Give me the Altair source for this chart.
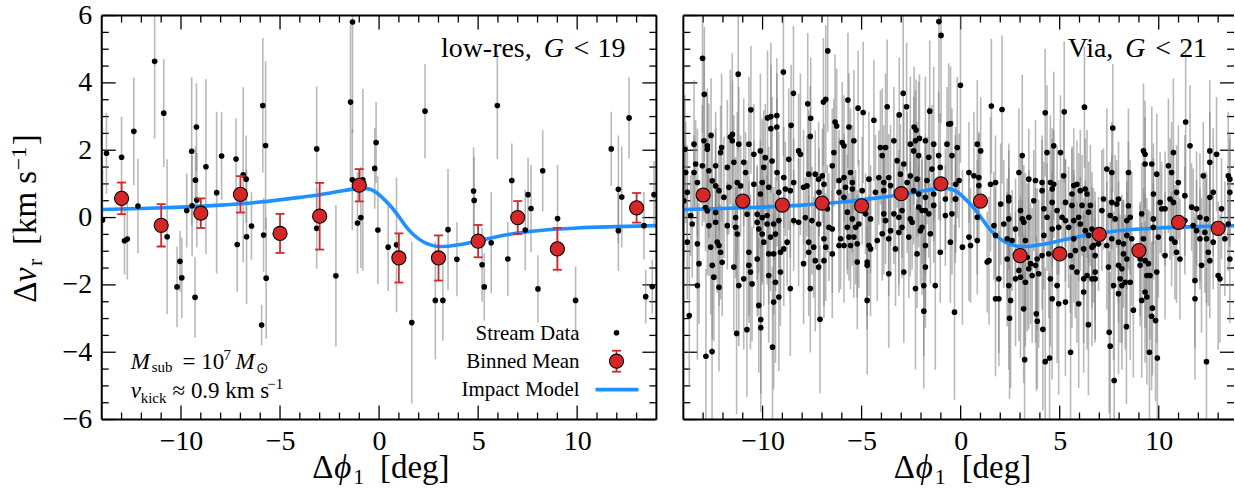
import altair as alt
import pandas as pd

FONT = "Liberation Serif"

# ---------------- axis tick values ----------------
X_MAJOR = [-10, -5, 0, 5, 10]
X_MINOR = [-13, -12, -11, -9, -8, -7, -6, -4, -3, -2, -1, 1, 2, 3, 4, 6, 7, 8, 9, 11, 12, 13]
Y_MAJOR = [-6, -4, -2, 0, 2, 4, 6]
Y_MINOR = [-5.5, -5, -4.5, -3.5, -3, -2.5, -1.5, -1, -0.5, 0.5, 1, 1.5, 2.5, 3, 3.5, 4.5, 5, 5.5]

# ---------------- impact model ----------------
MODEL_X = [-14, -12, -10, -8, -6, -4, -3, -2, -1.5, -1, -0.6, -0.2, 0.2, 0.6, 1.0, 1.4,
           1.8, 2.2, 2.6, 3.0, 3.5, 4, 5, 6, 7, 8, 10, 12, 14]
MODEL_Y = [0.24, 0.27, 0.31, 0.37, 0.46, 0.60, 0.68, 0.78, 0.83, 0.87, 0.86, 0.77, 0.57, 0.33,
           0.03, -0.30, -0.54, -0.71, -0.81, -0.86, -0.85, -0.81, -0.69, -0.56, -0.46, -0.39,
           -0.31, -0.27, -0.24]

# ---------------- binned means ----------------
LOWRES_BIN_X = [-13, -11, -9, -7, -5, -3, -1, 1, 3, 5, 7, 9, 13]
LOWRES_BIN_Y = [0.57, -0.23, 0.13, 0.69, -0.47, 0.04, 0.96, -1.20, -1.20, -0.70, 0.0, -0.93, 0.29]
LOWRES_BIN_ERR = [0.47, 0.63, 0.44, 0.54, 0.58, 0.99, 0.48, 0.73, 0.67, 0.48, 0.49, 0.62, 0.44]

VIA_BIN_X = [-13, -11, -9, -7, -5, -3, -1, 1, 3, 5, 7, 9, 11, 13]
VIA_BIN_Y = [0.67, 0.49, 0.37, 0.43, 0.35, 0.71, 1.0, 0.49, -1.13, -1.08, -0.50, -0.98, -0.14, -0.32]

# ---------------- stream data (x, dv, err) ----------------
LOWRES_A = [(-13.96, -0.07, 1.5), (-13.76, 1.91, 1.2), (-13.0, 1.79, 1.2), (-12.38, 2.56, 1.6),
            (-12.17, 0.34, 1.4), (-12.85, -0.69, 1.0), (-12.71, -0.64, 1.2), (-11.33, 4.64, 2.3),
            (-10.87, 3.10, 1.6), (-10.70, -0.57, 2.3), (-9.71, 0.21, 1.1), (-9.46, 1.97, 2.2),
            (-9.44, 0.35, 1.5), (-9.22, 2.69, 1.3), (-9.27, 1.11, 1.0), (-9.2, 0.52, 1.4),
            (-8.74, 1.51, 2.6), (-8.2, 0.74, 2.4), (-7.95, 1.83, 1.3), (-7.22, 1.74, 1.2),
            (-6.86, 1.27, 2.6), (-6.71, 1.14, 1.3), (-7.16, -0.80, 1.4), (-6.69, -0.57, 2.0),
            (-6.44, -0.25, 1.0), (-5.87, 3.33, 2.0), (-5.73, 2.14, 2.5), (-5.83, -0.52, 1.1),
            (-3.15, 2.04, 1.85), (-3.15, -0.32, 1.2), (-10.05, -1.30, 0.9), (-10.2, -2.06, 1.2),
            (-9.96, -1.79, 1.2), (-9.29, -2.37, 1.2), (-5.93, -3.19, 0.6), (-5.70, -1.80, 1.8),
            (-2.18, -1.73, 2.1)]
LOWRES_B = [(-1.34, 5.81, 3.3), (-1.44, 3.43, 2.3), (-0.15, 2.23, 1.2), (-0.22, 1.46, 1.2),
            (-1.35, 1.12, 1.5), (-0.82, 1.12, 2.7), (-1.09, -0.16, 1.5), (-0.92, 0.0, 1.5),
            (-0.06, -0.37, 1.6), (2.32, 3.16, 1.4), (3.48, -0.36, 1.8), (5.97, 3.33, 1.6),
            (4.77, 0.79, 1.3), (4.80, 0.51, 1.3), (6.70, 1.10, 1.1), (8.26, 1.39, 1.2),
            (7.52, 0.68, 1.1), (7.67, 0.27, 1.3), (7.38, -0.37, 1.2), (9.01, -0.03, 1.6),
            (5.66, -0.75, 1.5), (11.72, 2.04, 1.1), (12.62, 2.96, 1.2), (12.08, 0.84, 1.6),
            (12.25, 0.61, 1.5), (12.08, -0.39, 1.2), (13.37, -0.24, 1.0), (13.88, 0.68, 1.0),
            (0.46, -0.88, 1.3), (0.88, -0.81, 2.0), (1.65, -3.12, 2.4), (2.84, -2.46, 1.75),
            (3.22, -2.46, 1.2), (3.93, -1.24, 1.1), (5.2, -1.40, 1.1), (5.31, -2.06, 1.0),
            (6.50, -1.23, 1.1), (8.02, -2.12, 1.0), (9.92, -2.46, 1.0), (13.46, -2.35, 0.8),
            (13.79, -2.05, 0.8)]

VIA_A = [(-13.92, 2.03, 1.6), (-13.46, 2.18, 1.9), (-12.96, 2.28, 2.4), (-12.79, 2.13, 1.5), (-12.79, 2.03, 1.8),
         (-12.07, 2.08, 2.2), (-12.12, 1.93, 1.4), (-11.53, 2.28, 2.6), (-11.2, 2.18, 1.7), (-10.69, 2.18, 2.0),
         (-10.44, 1.88, 1.5), (-10.11, 1.98, 2.3), (-9.86, 1.78, 1.6), (-9.52, 1.68, 1.9), (-8.68, 1.73, 2.1),
         (-8.18, 1.98, 1.7), (-8.09, 1.88, 2.4), (-13.38, 1.59, 1.3), (-13.04, 1.54, 1.8), (-12.37, 1.54, 1.6),
         (-11.78, 1.49, 2.0), (-11.45, 1.64, 1.4), (-10.95, 1.64, 1.9), (-10.86, 1.34, 1.2), (-9.94, 1.49, 1.7),
         (-9.27, 1.34, 2.2), (-8.93, 1.19, 1.5), (-7.67, 1.29, 1.9), (-7.34, 1.29, 1.3), (-7.17, 1.14, 1.7),
         (-13.88, 1.34, 1.5), (-13.46, 1.34, 1.1), (-13.29, 1.04, 1.6), (-12.71, 1.39, 2.0), (-12.54, 1.09, 1.3),
         (-12.37, 0.94, 1.7), (-12.2, 0.80, 1.2), (-11.95, 0.60, 1.8), (-11.7, 0.90, 1.4), (-11.28, 1.04, 2.1),
         (-11.11, 0.94, 1.5), (-10.44, 0.99, 1.3), (-10.02, 1.04, 1.9), (-10.11, 0.70, 1.6), (-9.69, 0.90, 1.2),
         (-9.18, 0.75, 1.8), (-8.85, 0.85, 1.4), (-8.6, 0.80, 2.0), (-8.43, 1.04, 1.3), (-7.93, 0.90, 1.7),
         (-7.76, 0.94, 1.5), (-13.8, 0.75, 1.4), (-13.97, 0.50, 1.8), (-13.63, 0.06, 1.2), (-13.55, -0.19, 1.6),
         (-12.88, 0.30, 1.3), (-12.79, 0.20, 1.9), (-12.37, 0.15, 1.1), (-12.71, -0.24, 1.5), (-12.37, -0.14, 1.7),
         (-11.78, -0.24, 1.3), (-11.36, 0.0, 1.8), (-11.36, -0.29, 1.2), (-10.78, 0.10, 1.6), (-10.27, 0.10, 1.4),
         (-10.02, 0.0, 1.9), (-9.77, 0.06, 1.2), (-10.27, -0.14, 1.7), (-10.19, -0.34, 1.3), (-10.02, -0.49, 1.5),
         (-9.77, -0.19, 1.8), (-9.44, -0.19, 1.1), (-9.6, -0.58, 1.6), (-9.94, -0.73, 1.9), (-9.18, -0.09, 1.4),
         (-9.35, -0.49, 1.7), (-8.76, -0.73, 1.3), (-8.43, -0.09, 1.5), (-8.18, -0.14, 1.9), (-7.84, 0.0, 1.2),
         (-7.51, -0.09, 1.6), (-7.17, -0.19, 1.4), (-13.8, -0.73, 1.7), (-13.29, -0.78, 1.3), (-12.62, -0.88, 2.0),
         (-12.29, -0.73, 1.5), (-12.2, -0.83, 1.8), (-12.12, -1.03, 1.4), (-11.28, -0.49, 1.6), (-10.69, -1.03, 2.1),
         (-9.69, -1.08, 1.5), (-9.44, -1.08, 1.8), (-9.1, -1.03, 1.3), (-8.93, -0.93, 1.7), (-7.67, -0.73, 1.4),
         (-7.67, -1.03, 1.9), (-7.42, -0.88, 1.5), (-13.21, -1.37, 1.8), (-12.54, -1.42, 2.2), (-12.04, -1.33, 1.6),
         (-11.45, -1.47, 1.9), (-10.69, -1.42, 1.5), (-10.61, -1.62, 2.3), (-10.27, -1.23, 1.7), (-9.69, -1.72, 2.0),
         (-9.1, -1.62, 1.6), (-7.93, -1.37, 1.8), (-7.34, -1.28, 2.1), (-7.17, -1.47, 1.5), (-13.29, -2.02, 2.2),
         (-12.46, -1.77, 1.9), (-12.2, -2.07, 2.5), (-11.2, -2.02, 1.8), (-10.95, -1.82, 2.1), (-10.53, -1.97, 1.7),
         (-9.35, -1.92, 2.4), (-8.6, -2.11, 2.0), (-7.59, -2.11, 1.9), (-9.44, -2.51, 2.6), (-9.18, -2.36, 2.2),
         (-10.19, -2.61, 2.0), (-13.03, 4.73, 2.2), (-12.94, 3.66, 2.0), (-11.23, 4.26, 2.3), (-10.59, 3.2, 1.9),
         (-8.95, 4.32, 2.5), (-8.44, 3.69, 2.0), (-7.72, 3.38, 2.1), (-7.57, 2.95, 1.8), (-9.75, 2.96, 2.0),
         (-9.58, 3.0, 2.2), (-9.28, 3.03, 1.7), (-9.58, 2.64, 1.9), (-9.28, 2.69, 1.6), (-8.56, 2.74, 1.8),
         (-7.59, 2.41, 1.5), (-12.6, 2.44, 1.7), (-11.63, 2.39, 2.0), (-11.52, 2.47, 1.6), (-13.7, -2.91, 2.1),
         (-12.86, -4.12, 2.6), (-12.55, -3.98, 2.3), (-11.31, -3.44, 2.4), (-10.79, -3.33, 2.0), (-10.09, -3.03, 2.2),
         (-10.09, -3.27, 2.5), (-9.5, -3.85, 2.4), (-7.1, -3.02, 2.2)]

VIA_B = [(-5.98, 2.23, 1.8), (-5.89, 2.13, 1.5), (-5.39, 2.28, 2.1), (-4.05, 2.08, 1.7), (-3.79, 2.08, 2.2),
         (-3.37, 2.28, 1.6), (-2.54, 2.18, 2.0), (-2.28, 2.28, 1.5), (-1.78, 2.28, 1.9), (-1.36, 2.18, 2.3),
         (-0.69, 2.18, 1.7), (-6.4, 1.93, 1.6), (-3.96, 1.84, 2.0), (-3.21, 1.69, 1.4), (-2.87, 1.59, 1.8),
         (-2.37, 1.98, 1.6), (-2.12, 1.84, 2.2), (-1.61, 1.79, 1.5), (-1.11, 1.84, 1.9), (-0.44, 1.84, 1.4),
         (-6.48, 1.54, 1.7), (-5.89, 1.19, 1.3), (-5.56, 1.34, 1.9), (-6.14, 1.10, 1.5), (-5.47, 1.04, 1.2),
         (-4.97, 0.80, 1.6), (-4.63, 1.14, 2.0), (-4.13, 1.19, 1.4), (-3.88, 1.04, 1.7), (-3.63, 1.19, 1.3),
         (-3.54, 0.95, 1.8), (-3.04, 1.29, 1.5), (-2.7, 1.04, 2.1), (-2.54, 1.24, 1.4), (-2.2, 1.14, 1.7),
         (-1.7, 1.10, 1.3), (-1.45, 1.44, 1.9), (-1.03, 1.49, 1.6), (-6.98, 1.24, 1.4), (-6.9, 0.99, 1.8),
         (-7.15, 0.75, 1.3), (-6.14, 0.75, 1.6), (-5.81, 0.90, 1.2), (-5.47, 0.85, 1.9), (-5.89, 0.60, 1.4),
         (-4.3, 0.75, 1.7), (-3.88, 0.80, 1.3), (-2.37, 0.80, 1.6), (-2.12, 0.70, 1.2), (-1.78, 0.60, 1.8),
         (-1.36, 0.70, 1.4), (-0.77, 0.55, 1.5), (-0.27, 0.55, 1.9), (-6.73, 0.26, 1.3), (-5.72, 0.16, 1.7),
         (-5.47, -0.04, 1.4), (-5.14, -0.19, 1.9), (-4.8, 0.11, 1.2), (-4.55, -0.04, 1.6), (-3.88, 0.11, 1.8),
         (-3.79, -0.09, 1.3), (-3.37, 0.11, 1.5), (-3.12, 0.01, 2.0), (-2.96, 0.21, 1.4), (-2.54, -0.04, 1.7),
         (-2.12, 0.31, 1.2), (-1.95, 0.21, 1.6), (-1.78, 0.21, 1.9), (-1.61, 0.11, 1.3), (-1.36, 0.36, 1.7),
         (-0.77, 0.06, 1.5), (-0.44, 0.11, 1.8), (-6.65, -0.29, 1.6), (-6.48, -0.34, 1.9), (-5.72, -0.29, 1.4),
         (-5.3, -0.29, 1.7), (-5.64, -0.58, 1.3), (-5.39, -0.58, 1.8), (-6.06, -0.63, 1.5), (-6.9, -0.63, 2.0),
         (-6.81, -0.88, 1.6), (-6.48, -1.08, 1.9), (-6.14, -0.83, 1.4), (-5.89, -0.83, 1.7), (-5.56, -0.83, 1.3),
         (-5.22, -0.78, 1.6), (-4.55, -0.93, 2.0), (-4.63, -0.83, 1.5), (-4.21, -0.68, 1.8), (-3.96, -0.48, 1.4),
         (-3.63, -0.63, 1.7), (-3.54, -0.39, 1.3), (-3.12, -0.44, 1.9), (-2.96, -0.29, 1.5), (-2.62, -0.58, 1.8),
         (-2.45, -0.14, 1.4), (-2.03, -0.39, 1.6), (-1.95, -0.29, 2.0), (-1.53, -0.48, 1.5), (-3.29, -0.93, 1.7),
         (-2.87, -1.62, 2.1), (-2.2, -1.08, 1.6), (-1.78, -0.83, 1.9), (-1.03, -1.03, 1.5), (-0.52, -0.73, 1.8),
         (-6.9, -1.28, 1.7), (-5.22, -1.32, 2.0), (-4.72, -1.32, 1.6), (-4.72, -1.42, 1.9), (-3.63, -1.67, 2.2),
         (-2.28, -2.11, 2.4), (-1.78, -1.47, 1.8), (-1.86, -2.02, 2.1), (-1.28, -2.02, 2.5), (-4.72, -2.46, 2.2),
         (-6.71, 4.95, 2.4), (-6.93, 3.43, 1.9), (-6.81, 3.51, 2.2), (-5.69, 3.49, 2.0), (-5.18, 3.25, 1.7),
         (-4.92, 3.12, 2.1), (-4.38, 2.89, 1.8), (-3.71, 3.29, 2.0), (-2.9, 3.69, 2.3), (-2.73, 3.29, 1.9),
         (-3.1, 3.05, 1.7), (-1.56, 3.16, 2.1), (-1.1, 5.82, 3.0), (-0.99, 5.41, 2.6), (-0.6, 2.78, 1.8),
         (-5.64, 2.69, 1.6), (-6.34, 2.84, 2.0), (-6.26, 2.72, 1.7), (-2.35, 2.69, 1.8), (-2.25, 2.60, 1.5),
         (-2.08, 2.35, 1.9), (-0.51, 2.79, 1.7), (-1.86, -2.78, 2.3), (-0.31, -2.81, 2.6)]

VIA_C = [(0.84, 2.18, 1.9), (1.01, 1.98, 1.6), (-0.17, 2.08, 2.1), (3.11, 1.84, 2.4), (4.36, 1.93, 2.0),
         (4.70, 2.13, 2.2), (5.04, 1.93, 1.7), (2.94, 1.34, 1.9), (3.44, 1.14, 1.5), (3.78, 1.10, 1.8),
         (4.11, 1.04, 1.4), (4.53, 1.04, 2.0), (4.70, 0.99, 1.6), (5.20, 1.24, 1.9), (4.11, 0.80, 1.5),
         (4.62, 0.85, 1.8), (-0.08, 1.10, 1.4), (-0.25, 0.99, 1.7), (0.42, 1.34, 1.5), (0.67, 1.24, 1.9),
         (0.92, 1.19, 1.3), (0.92, 0.95, 1.6), (1.51, 0.99, 2.0), (1.76, 1.04, 1.4), (5.71, 0.95, 1.7),
         (5.87, 0.99, 1.3), (6.04, 0.80, 1.8), (6.29, 0.85, 1.5), (6.38, 0.70, 1.9), (5.62, 0.70, 1.4),
         (-0.25, 0.55, 1.6), (2.02, 0.40, 1.8), (2.43, 0.60, 1.4), (2.43, 0.50, 1.7), (3.69, 0.50, 1.5),
         (4.62, 0.45, 1.9), (5.29, 0.45, 1.3), (5.62, 0.36, 1.7), (6.13, 0.36, 1.5), (6.55, 0.36, 1.8),
         (3.02, 0.21, 1.6), (4.20, 0.26, 1.4), (4.87, 0.21, 1.9), (6.46, 0.16, 1.5), (0.84, 0.01, 1.7),
         (2.43, -0.04, 1.5), (3.11, -0.04, 1.9), (3.44, 0.01, 1.4), (3.19, -0.14, 1.7), (4.36, 0.01, 1.6),
         (5.12, 0.01, 1.3), (5.29, -0.09, 1.8), (5.71, -0.09, 1.5), (5.96, 0.01, 1.9), (6.04, -0.19, 1.4),
         (1.68, -0.24, 1.6), (2.18, -0.19, 1.9), (2.77, -0.34, 1.5), (4.62, -0.34, 1.7), (4.95, -0.29, 1.4),
         (5.45, -0.29, 1.8), (6.29, -0.39, 1.5), (6.63, -0.34, 1.7), (0.42, -0.58, 1.9), (0.84, -0.68, 1.6),
         (1.76, -0.53, 1.4), (2.35, -0.63, 1.8), (2.60, -0.68, 1.5), (3.27, -0.68, 2.0), (4.20, -0.53, 1.6),
         (5.71, -0.63, 1.9), (6.46, -0.53, 1.4), (0.09, -0.88, 2.3), (0.50, -0.83, 1.7), (1.43, -1.28, 1.9),
         (1.34, -1.32, 1.5), (2.35, -1.23, 2.0), (3.11, -1.08, 1.6), (3.36, -1.18, 2.2), (3.53, -1.37, 1.8),
         (3.86, -1.23, 2.1), (4.11, -1.13, 1.6), (4.45, -1.08, 1.9), (5.54, -1.13, 1.7), (5.79, -0.98, 2.0),
         (6.21, -0.93, 1.5), (6.63, -0.88, 1.8), (2.94, -1.57, 2.1), (3.44, -1.52, 1.8), (3.78, -1.42, 2.3),
         (3.61, -1.72, 2.0), (1.93, -1.82, 2.2), (2.43, -2.02, 2.5), (2.77, -1.82, 2.0), (3.02, -1.77, 2.4),
         (3.27, -1.92, 1.9), (3.94, -1.67, 2.2), (4.53, -1.82, 2.0), (4.87, -2.02, 2.3), (5.62, -1.47, 1.8),
         (5.87, -1.62, 2.1), (6.21, -1.82, 1.9), (6.38, -1.72, 2.2), (6.21, -2.21, 2.4), (6.63, -1.82, 2.0),
         (1.76, -2.41, 2.3), (1.93, -2.41, 2.0), (2.52, -2.46, 2.6), (4.62, -2.41, 2.4), (4.95, -2.56, 2.7),
         (5.29, -2.51, 2.2), (5.96, -2.56, 2.5), (-0.01, 3.93, 2.3), (1.55, 3.31, 2.0), (2.09, 3.21, 2.2),
         (4.27, 3.11, 1.9), (5.23, 3.14, 2.1), (6.25, 3.28, 1.8), (2.47, -2.99, 2.4), (3.18, -2.71, 2.2),
         (3.23, -4.22, 2.6), (3.82, -2.86, 2.3), (3.87, -3.08, 2.0), (4.15, -3.32, 2.4), (4.27, -4.28, 2.8),
         (4.49, -4.17, 2.5), (5.55, -4.0, 2.3), (6.45, -3.18, 2.1)]

VIA_D = [(9.23, 1.98, 2.0), (9.31, 1.88, 1.6), (10.74, 1.93, 2.2), (11.58, 2.13, 1.8), (12.58, 1.98, 2.1),
         (12.92, 1.88, 1.7), (12.58, 1.64, 1.5), (7.38, 1.44, 1.8), (7.63, 1.34, 1.5), (8.47, 1.34, 1.9),
         (9.31, 1.59, 1.4), (9.65, 1.59, 1.7), (10.49, 1.54, 2.0), (10.65, 1.34, 1.5), (9.90, 1.29, 1.8),
         (12.25, 1.24, 1.6), (13.51, 1.24, 1.9), (13.59, 1.14, 1.4), (10.99, 1.04, 1.7), (10.90, 0.75, 1.4),
         (11.32, 0.65, 1.8), (9.73, 0.70, 1.5), (12.75, 0.75, 1.9), (12.58, 0.60, 1.3), (13.59, 0.75, 1.6),
         (7.21, 0.55, 1.5), (7.13, 0.21, 1.8), (7.63, 0.45, 1.4), (7.97, 0.55, 1.7), (7.88, 0.40, 1.3),
         (8.47, 0.35, 1.9), (10.07, 0.45, 1.5), (10.32, 0.26, 1.7), (10.15, 0.26, 1.4), (10.57, 0.55, 1.8),
         (10.74, 0.45, 1.6), (11.66, 0.31, 1.3), (11.91, 0.26, 1.7), (13.17, 0.26, 1.5), (7.55, 0.06, 1.6),
         (7.80, -0.04, 1.9), (8.39, -0.09, 1.4), (8.56, 0.01, 1.7), (9.14, 0.11, 1.5), (9.73, -0.04, 1.8),
         (9.73, -0.29, 1.3), (11.32, -0.09, 1.6), (12.08, 0.01, 1.9), (12.41, -0.04, 1.4), (11.74, -0.24, 1.7),
         (11.91, -0.39, 1.5), (12.33, -0.44, 1.8), (13.51, -0.19, 1.4), (6.71, -0.83, 1.7), (6.96, -0.78, 1.4),
         (7.38, -0.83, 1.9), (7.63, -0.63, 1.5), (7.97, -0.73, 1.8), (8.22, -0.78, 1.3), (8.39, -0.53, 1.6),
         (8.64, -0.63, 2.0), (9.23, -0.63, 1.5), (9.98, -0.58, 1.8), (10.65, -0.63, 1.4), (10.82, -0.73, 1.7),
         (12.08, -0.63, 1.5), (12.41, -0.63, 1.9), (12.75, -0.73, 1.4), (13.34, -0.63, 1.7), (6.79, -1.13, 1.9),
         (8.22, -1.08, 1.6), (8.39, -1.23, 2.0), (9.06, -1.23, 1.7), (10.32, -1.13, 1.9), (10.90, -1.03, 1.5),
         (11.07, -1.23, 1.8), (12.50, -1.03, 1.6), (12.16, -1.42, 2.0), (12.58, -1.28, 1.7), (13.59, -1.23, 1.9),
         (6.79, -1.62, 2.1), (6.79, -1.82, 1.8), (7.46, -1.47, 2.0), (7.97, -1.42, 1.7), (8.14, -1.52, 2.2),
         (9.06, -1.42, 1.8), (9.31, -1.28, 2.0), (9.48, -1.37, 1.6), (9.40, -1.72, 2.3), (9.56, -1.72, 1.9),
         (9.90, -1.62, 2.1), (7.72, -2.02, 2.2), (8.14, -2.02, 2.5), (8.31, -1.92, 2.0), (8.56, -1.92, 2.3),
         (8.05, -1.82, 1.9), (7.97, -2.26, 2.4), (9.31, -2.21, 2.1), (9.40, -2.36, 2.6), (9.14, -2.46, 2.3),
         (11.83, -1.87, 2.0), (13.00, -1.72, 2.2), (13.09, -1.82, 1.9), (11.83, -2.41, 2.4), (7.68, 2.66, 1.9),
         (11.36, 2.84, 2.1), (7.5, -3.41, 2.4), (7.55, -3.82, 2.2), (7.75, -4.84, 2.7), (8.37, -3.24, 2.3),
         (8.72, -2.75, 2.0), (9.53, -4.0, 2.5), (9.64, -2.93, 2.2), (9.84, -3.06, 2.4), (9.68, -2.69, 2.0),
         (9.93, -4.17, 2.6), (12.41, -4.28, 2.8)]

# ---------------- layout constants ----------------
H = 405
W_L = 556
W_R = 552
XDOM_L = [-14, 14]
XDOM_R = [-14, 13.8]
YDOM = [-6, 6]
RED = "#d62728"
BLUE = "#1e90ff"

ONE = pd.DataFrame({"k": [0]})


def pts_frame(*lists):
    rows = [r for lst in lists for r in lst]
    df = pd.DataFrame(rows, columns=["x", "y", "e"])
    df["lo"] = df["y"] - df["e"]
    df["hi"] = df["y"] + df["e"]
    return df


def txt(s, x, y, size, italic=False, align="left", angle=0):
    kw = dict(font=FONT, fontSize=size, align=align, baseline="alphabetic", color="black")
    if italic:
        kw["fontStyle"] = "italic"
    if angle:
        kw["angle"] = angle
    return alt.Chart(ONE).mark_text(**kw).encode(x=alt.value(x), y=alt.value(y), text=alt.value(s))


def make_panel(pts, bins, width, xdom, show_ylabels, bin_err, title_parts, extras):
    xax = alt.Axis(values=X_MAJOR, ticks=False, domain=False, grid=False, title=None,
                   labelFont=FONT, labelFontSize=28, labelPadding=8, labelColor="black")
    if show_ylabels:
        yax = alt.Axis(values=Y_MAJOR, ticks=False, domain=False, grid=False, title=None,
                       labelFont=FONT, labelFontSize=28, labelPadding=10, labelColor="black")
    else:
        yax = None
    xs = alt.Scale(domain=xdom, nice=False, zero=False)
    ys = alt.Scale(domain=YDOM, nice=False, zero=False)

    def X(f):
        return alt.X(f"{f}:Q", scale=xs, axis=xax)

    def Y(f):
        return alt.Y(f"{f}:Q", scale=ys, axis=yax)

    layers = []
    # inner ticks on all four sides
    xmaj = pd.DataFrame({"x": X_MAJOR})
    xmin = pd.DataFrame({"x": X_MINOR})
    ymaj = pd.DataFrame({"y": Y_MAJOR})
    ymin = pd.DataFrame({"y": Y_MINOR})
    for df, ln in ((xmaj, 14), (xmin, 7)):
        layers.append(alt.Chart(df).mark_rule(color="black", strokeWidth=1.3).encode(
            x=X("x"), y=alt.value(H), y2=alt.value(H - ln)))
        layers.append(alt.Chart(df).mark_rule(color="black", strokeWidth=1.3).encode(
            x=X("x"), y=alt.value(0), y2=alt.value(ln)))
    for df, ln in ((ymaj, 14), (ymin, 7)):
        layers.append(alt.Chart(df).mark_rule(color="black", strokeWidth=1.3).encode(
            y=Y("y"), x=alt.value(0), x2=alt.value(ln)))
        layers.append(alt.Chart(df).mark_rule(color="black", strokeWidth=1.3).encode(
            y=Y("y"), x=alt.value(width), x2=alt.value(width - ln)))

    # data error bars, model, points
    layers.append(alt.Chart(pts).mark_rule(color="#808080", opacity=0.55, strokeWidth=1.6, clip=True).encode(
        x=X("x"), y=Y("lo"), y2="hi"))
    model = pd.DataFrame({"x": MODEL_X, "y": MODEL_Y})
    layers.append(alt.Chart(model).mark_line(color=BLUE, strokeWidth=3.6, interpolate="monotone", clip=True).encode(
        x=X("x"), y=Y("y")))
    layers.append(alt.Chart(pts).mark_circle(size=32, color="black", opacity=1, clip=True).encode(
        x=X("x"), y=Y("y")))

    # binned means
    if bin_err:
        layers.append(alt.Chart(bins).mark_rule(color=RED, strokeWidth=1.8).encode(
            x=X("x"), y=Y("lo"), y2="hi"))
        layers.append(alt.Chart(bins).mark_tick(color=RED, orient="horizontal", size=9, thickness=1.8, opacity=1).encode(
            x=X("x"), y=Y("lo")))
        layers.append(alt.Chart(bins).mark_tick(color=RED, orient="horizontal", size=9, thickness=1.8, opacity=1).encode(
            x=X("x"), y=Y("hi")))
    layers.append(alt.Chart(bins).mark_circle(size=200, fill=RED, stroke="black", strokeWidth=1.1,
                                              fillOpacity=1, opacity=1).encode(x=X("x"), y=Y("y")))

    # frame
    frame = alt.Chart(ONE).mark_rule(color="black", strokeWidth=2)
    layers.append(frame.encode(x=alt.value(0), x2=alt.value(width), y=alt.value(0)))
    layers.append(frame.encode(x=alt.value(0), x2=alt.value(width), y=alt.value(H)))
    layers.append(frame.encode(x=alt.value(0), y=alt.value(0), y2=alt.value(H)))
    if width == W_L:
        layers.append(frame.encode(x=alt.value(width), y=alt.value(0), y2=alt.value(H)))

    # panel title
    t_main, t_num = title_parts
    layers.append(txt(t_main, 431, 42, 28, align="right"))
    layers.append(txt("G", 443, 42, 28, italic=True))
    layers.append(txt("<", 473, 42, 28))
    layers.append(txt(t_num, 525, 42, 28, align="right"))

    # x title
    layers.append(txt("\u0394", 211, H + 59, 33))
    layers.append(txt("\u03d5", 233, H + 59, 33, italic=True))
    layers.append(txt("1", 252, H + 65, 22))
    layers.append(txt("[deg]", 279, H + 59, 33))

    for item in extras:
        layers.append(txt(*item[:4], **item[4]) if len(item) > 4 else txt(*item))

    return alt.layer(*layers).properties(width=width, height=H)


low_pts = pts_frame(LOWRES_A, LOWRES_B)
via_pts = pts_frame(VIA_A, VIA_B, VIA_C, VIA_D)
low_bins = pd.DataFrame({"x": LOWRES_BIN_X, "y": LOWRES_BIN_Y, "e": LOWRES_BIN_ERR})
low_bins["lo"] = low_bins["y"] - low_bins["e"]
low_bins["hi"] = low_bins["y"] + low_bins["e"]
via_bins = pd.DataFrame({"x": VIA_BIN_X, "y": VIA_BIN_Y})

left_extras = [
    # y-axis title (rotated)
    ("\u0394", -66, 288, 33, {"angle": 270}),
    ("v", -66, 267, 33, {"angle": 270, "italic": True}),
    ("r", -60, 251, 22, {"angle": 270}),
    ("[km s", -66, 230, 33, {"angle": 270}),
    ("\u22121", -76, 155, 22, {"angle": 270}),
    ("]", -66, 130, 33, {"angle": 270}),
    # annotation
    ("M", 29, 354, 23, {"italic": True}),
    ("sub", 50, 357, 15),
    ("= 10", 81, 354, 23),
    ("7", 122, 345, 15),
    ("M", 134, 354, 23, {"italic": True}),
    ("\u2299", 155, 358, 15),
    ("v", 29, 383, 23, {"italic": True}),
    ("kick", 39, 388, 15),
    ("\u2248 0.9 km s", 71, 383, 23),
    ("\u22121", 166, 374, 15),
    # legend text
    ("Stream Data", 479, 325, 21, {"align": "right"}),
    ("Binned Mean", 479, 353, 21, {"align": "right"}),
    ("Impact Model", 479, 381, 21, {"align": "right"}),
]

left = make_panel(low_pts, low_bins, W_L, XDOM_L, True, True, ("low-res,", "19"), left_extras)

# legend symbols (pixel-placed, left panel)
leg = alt.Chart(ONE)
leg_layers = [
    leg.mark_circle(size=32, color="black", opacity=1).encode(x=alt.value(516), y=alt.value(318)),
    leg.mark_rule(color=RED, strokeWidth=1.8).encode(x=alt.value(516), y=alt.value(336), y2=alt.value(357)),
    leg.mark_rule(color=RED, strokeWidth=1.8).encode(x=alt.value(511.5), x2=alt.value(520.5), y=alt.value(336)),
    leg.mark_rule(color=RED, strokeWidth=1.8).encode(x=alt.value(511.5), x2=alt.value(520.5), y=alt.value(357)),
    leg.mark_circle(size=200, fill=RED, stroke="black", strokeWidth=1.1, fillOpacity=1, opacity=1).encode(
        x=alt.value(516), y=alt.value(346.5)),
    leg.mark_rule(color=BLUE, strokeWidth=3.6).encode(x=alt.value(495), x2=alt.value(538), y=alt.value(375)),
]
left = alt.layer(left, *leg_layers)

right = make_panel(via_pts, via_bins, W_R, XDOM_R, False, False, ("Via,", "21"), [])

chart = alt.hconcat(left, right, spacing=25).properties(
    padding={"left": 8, "top": 1, "right": 0, "bottom": 0},
    background="white",
).configure_view(stroke=None)

chart.save("out.html", embed_options={"renderer": "svg", "actions": False})
